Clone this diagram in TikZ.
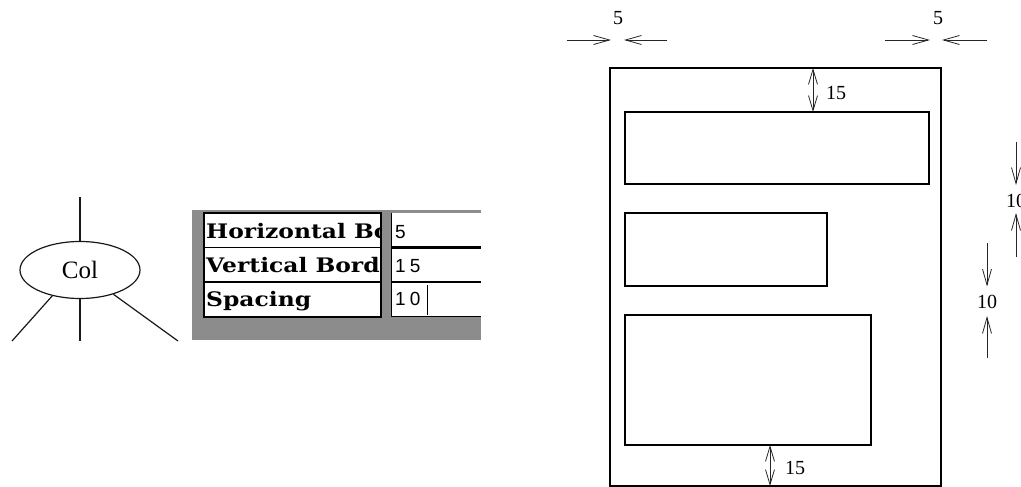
\documentclass[tikz,border=0pt]{standalone}
\usepackage{graphicx}
\usepackage{fontspec}
\setmainfont{Liberation Serif}
\newfontfamily\tabfont{DejaVu Serif}
\newfontfamily\valfont[LetterSpace=22]{Liberation Sans}
\usetikzlibrary{arrows.meta,shapes.geometric}
\newcommand{\widetext}[1]{\scalebox{1.17}[1]{#1}}
\tikzset{
  box/.style={draw=black, line width=1.6pt},
  dimarr/.style={draw=black!85, line width=0.8pt, -{Straight Barb[length=16pt,width=9pt]}},
  dimboth/.style={draw=black!85, line width=0.8pt, {Straight Barb[length=15pt,width=9pt]}-{Straight Barb[length=15pt,width=9pt]}},
  dimlabel/.style={inner sep=0pt, font=\fontsize{20}{24}\selectfont},
  tree/.style={draw=black!90, line width=1.2pt},
  cell/.style={fill=white, draw=black, line width=1.3pt},
  lab/.style={inner sep=0pt, anchor=base west, font=\tabfont\bfseries\fontsize{20}{24}\selectfont},
  val/.style={inner sep=0pt, anchor=base west, font=\valfont\fontsize{19}{22}\selectfont},
}
\begin{document}
\begin{tikzpicture}[x=1pt,y=-1pt]
\useasboundingbox (0,0) rectangle (1021,487);
\clip (0,0) rectangle (1021,487);

% ---------- Col node ----------
\node[ellipse, tree, minimum width=120pt, minimum height=57pt, inner sep=0pt,
      font=\fontsize{25}{30}\selectfont] (col) at (80,270) {Col};
\coordinate (ctop) at (80,197);
\coordinate (cbl) at (12,341);
\coordinate (cbm) at (80,341);
\coordinate (cbr) at (178,341);
\draw[tree] (col.north) -- (ctop);
\draw[tree] (col.223) -- (cbl);
\draw[tree] (col.south) -- (cbm);
\draw[tree] (col.324) -- (cbr);

% ---------- table ----------
\fill[black!45] (192,210) rectangle (481,340);
\draw[cell] (204,213) rectangle (381,317);
\draw[black, line width=1.3pt] (204,247.5) -- (381,247.5);
\draw[black, line width=1.3pt] (204,282) -- (381,282);
\fill[white] (391,213) rectangle (481,317);
\draw[black, line width=1pt] (391,213) -- (391,316.5) -- (481,316.5);
\draw[black, line width=2.4pt] (391,247.5) -- (481,247.5);
\draw[black, line width=2.4pt] (391,282) -- (481,282);
\begin{scope}
  \clip (204,213) rectangle (380,317);
  \node[lab] (t1) at (206,238) {\widetext{Horizontal Bo}};
  \node[lab] (t2) at (206,272.5) {\widetext{Vertical Bord}};
  \node[lab] (t3) at (206,306.5) {\widetext{Spacing}};
\end{scope}
\node[val] (v1) at (395,238) {5};
\node[val] (v2) at (395,272) {15};
\node[val] (v3) at (395,305.5) {10};
\coordinate (cur1) at (427.5,285);
\coordinate (cur2) at (427.5,315);
\draw[black, line width=1pt] (cur1) -- (cur2);

% ---------- page layout ----------
\coordinate (o1) at (610,68);  \coordinate (o2) at (941,486);
\coordinate (r1a) at (625,112); \coordinate (r1b) at (929,184);
\coordinate (r2a) at (625,213); \coordinate (r2b) at (827,286);
\coordinate (r3a) at (625,315); \coordinate (r3b) at (871,445);
\draw[box] (o1) rectangle (o2);
\draw[box] (r1a) rectangle (r1b);
\draw[box] (r2a) rectangle (r2b);
\draw[box] (r3a) rectangle (r3b);

% top 5 arrows
\coordinate (h1) at (567,40);  \coordinate (h2) at (611,40);
\coordinate (h3) at (667,40);  \coordinate (h4) at (624,40);
\draw[dimarr] (h1) -- (h2);
\draw[dimarr] (h3) -- (h4);
\node[dimlabel] (l5a) at (618,18) {5};
\coordinate (h5) at (885,40);  \coordinate (h6) at (930,40);
\coordinate (h7) at (987,40);  \coordinate (h8) at (942,40);
\draw[dimarr] (h5) -- (h6);
\draw[dimarr] (h7) -- (h8);
\node[dimlabel] (l5b) at (938,18) {5};

% 15 arrows
\coordinate (v15a) at (813,68);  \coordinate (v15b) at (813,112);
\draw[dimboth] (v15a) -- (v15b);
\node[dimlabel] (l15a) at (836,93) {15};
\coordinate (v15c) at (770,445);  \coordinate (v15d) at (770,486);
\draw[dimboth] (v15c) -- (v15d);
\node[dimlabel] (l15b) at (795,468) {15};

% 10 arrows
\coordinate (s1) at (1016,142); \coordinate (s2) at (1016,185);
\coordinate (s3) at (1016,257); \coordinate (s4) at (1016,213);
\draw[dimarr] (s1) -- (s2);
\draw[dimarr] (s3) -- (s4);
\node[dimlabel] (l10a) at (1016,201) {10};
\coordinate (s5) at (987,243); \coordinate (s6) at (987,286.5);
\coordinate (s7) at (987,358); \coordinate (s8) at (987,316);
\draw[dimarr] (s5) -- (s6);
\draw[dimarr] (s7) -- (s8);
\node[dimlabel] (l10b) at (987,302) {10};
\end{tikzpicture}
\end{document}
